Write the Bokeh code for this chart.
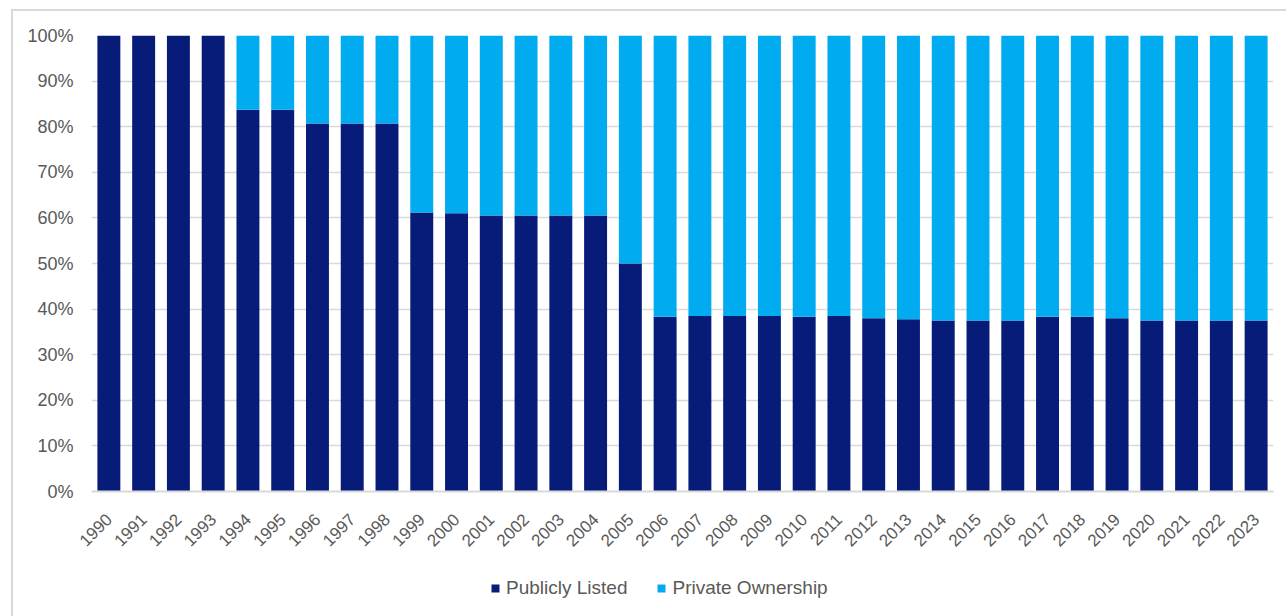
from bokeh.plotting import figure
from bokeh.layouts import column
from bokeh.models import FactorRange, Range1d, FixedTicker, PrintfTickFormatter, Legend, LegendItem, ColumnDataSource
from bokeh.embed import file_html
from bokeh.resources import INLINE
import math

years = [str(y) for y in range(1990, 2024)]
publicly_listed = [100, 100, 100, 100, 83.7, 83.7, 80.7, 80.7, 80.7, 61.2, 61.0,
                   60.5, 60.5, 60.5, 60.5, 50.0, 38.3, 38.5, 38.5, 38.5, 38.3, 38.5,
                   38.0, 37.8, 37.5, 37.5, 37.5, 38.3, 38.3, 38.0, 37.5, 37.5, 37.5, 37.5]
private_ownership = [0, 0, 0, 0, 16.3, 16.3, 19.3, 19.3, 19.3, 38.8, 39.0,
                     39.5, 39.5, 39.5, 39.5, 50.0, 61.7, 61.5, 61.5, 61.5, 61.7, 61.5,
                     62.0, 62.2, 62.5, 62.5, 62.5, 61.7, 61.7, 62.0, 62.5, 62.5, 62.5, 62.5]
y_ticks = [0, 10, 20, 30, 40, 50, 60, 70, 80, 90, 100]
series_names = ["Publicly Listed", "Private Ownership"]
colors = ["#071C78", "#00ABF0"]

FONT = "Liberation Sans"
TXT = "#595959"
GRID = "#D9D9D9"

src = ColumnDataSource(dict(year=years, pub=publicly_listed, priv=private_ownership))

p = figure(width=1273, height=560, x_range=FactorRange(*years), y_range=Range1d(0, 100),
           output_backend="svg", toolbar_location=None,
           min_border_left=78, min_border_right=13, min_border_top=24, min_border_bottom=80)

renderers = p.vbar_stack(["pub", "priv"], x="year", width=0.66, source=src,
                         color=colors, line_color=None)

p.x_range.range_padding = 0
p.outline_line_color = None
p.xgrid.grid_line_color = None
p.ygrid.grid_line_color = GRID
p.ygrid.grid_line_width = 1.5

p.yaxis.ticker = FixedTicker(ticks=y_ticks)
p.yaxis.formatter = PrintfTickFormatter(format="%d%%")
p.yaxis.axis_line_color = None
p.yaxis.major_tick_line_color = None
p.yaxis.minor_tick_line_color = None
p.yaxis.major_tick_out = 0
p.yaxis.minor_tick_out = 0
p.yaxis.major_label_standoff = 18
p.yaxis.major_label_text_font = FONT
p.yaxis.major_label_text_font_size = "18px"
p.yaxis.major_label_text_color = TXT

p.xaxis.axis_line_color = GRID
p.xaxis.axis_line_width = 2
p.xaxis.major_tick_line_color = None
p.xaxis.minor_tick_line_color = None
p.xaxis.major_tick_out = 0
p.xaxis.minor_tick_out = 0
p.xaxis.major_label_orientation = math.pi / 4
p.xaxis.major_label_standoff = 25
p.xaxis.major_label_text_font = FONT
p.xaxis.major_label_text_font_size = "17px"
p.xaxis.major_label_text_color = TXT

# legend strip below the chart (same series, drawn outside its visible range)
p2 = figure(width=1273, height=45, x_range=p.x_range, y_range=Range1d(150, 160),
            output_backend="svg", toolbar_location=None,
            x_axis_location=None, y_axis_location=None,
            min_border_left=0, min_border_right=0, min_border_top=0, min_border_bottom=0)
p2.outline_line_color = None
p2.grid.grid_line_color = None
keys = p2.vbar_stack(["pub", "priv"], x="year", width=0.66, source=src,
                     color=colors, line_color=None)

legend = Legend(items=[LegendItem(label=series_names[0], renderers=[keys[0]]),
                       LegendItem(label=series_names[1], renderers=[keys[1]])],
                orientation="horizontal", location=(399, 17),
                padding=0, margin=0, spacing=29, label_standoff=6,
                glyph_width=10, glyph_height=10, label_height=20,
                label_text_font=FONT, label_text_font_size="19px", label_text_color=TXT,
                border_line_color=None, background_fill_alpha=0)
p2.add_layout(legend, "center")

layout = column(p, p2, spacing=0,
                styles={"margin-left": "11px", "margin-top": "9px",
                        "border-top": "2px solid #D9D9D9", "border-left": "2px solid #D9D9D9"})

open("out.html", "w").write(file_html(layout, INLINE))
